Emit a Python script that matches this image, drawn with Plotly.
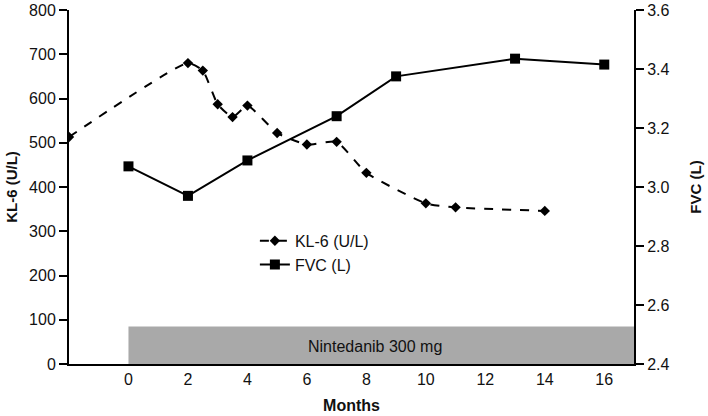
import plotly.graph_objects as go

# Data
kl6_months = [-2, 2, 2.5, 3, 3.5, 4, 5, 6, 7, 8, 10, 11, 14]
kl6_values = [513, 680, 663, 587, 558, 584, 522, 496, 502, 432, 363, 354, 346]
fvc_months = [0, 2, 4, 7, 9, 13, 16]
fvc_values = [3.07, 2.97, 3.09, 3.24, 3.375, 3.435, 3.415]
x_ticks = [0, 2, 4, 6, 8, 10, 12, 14, 16]
treatment_label = "Nintedanib 300 mg"
treatment_start, treatment_end, treatment_level = 0, 17, 85

font = "Liberation Sans, Arial, sans-serif"

fig = go.Figure()
fig.add_trace(go.Scatter(
    x=kl6_months, y=kl6_values, name="KL-6 (U/L)", mode="lines+markers",
    line=dict(color="black", width=2, dash="dash", shape="spline", smoothing=0.5),
    marker=dict(symbol="diamond", size=8, color="black"), yaxis="y"))
fig.add_trace(go.Scatter(
    x=fvc_months, y=fvc_values, name="FVC (L)", mode="lines+markers",
    line=dict(color="black", width=2),
    marker=dict(symbol="square", size=10, color="black"), yaxis="y2"))

fig.add_shape(type="rect", xref="x", yref="y", x0=treatment_start, x1=treatment_end,
              y0=0, y1=treatment_level, fillcolor="#a9a9a9", line=dict(width=0), layer="below")
fig.add_annotation(x=(treatment_start + treatment_end) / 2 - 0.2, y=treatment_level / 2 - 2,
                   xref="x", yref="y", text=treatment_label, showarrow=False,
                   font=dict(family=font, size=16, color="#111"))

axis_common = dict(showgrid=False, zeroline=False, showline=True, linecolor="black", linewidth=2,
                   ticks="outside", ticklen=8, tickwidth=2, tickcolor="black", automargin=False,
                   tickfont=dict(family=font, size=16, color="#111"))

xaxis_cfg = dict(axis_common)
xaxis_cfg["ticks"] = ""

fig.update_layout(
    width=708, height=416, margin=dict(l=69, r=74, t=10, b=52),
    paper_bgcolor="white", plot_bgcolor="white",
    xaxis=dict(range=[-2, 17], tickvals=x_ticks, **xaxis_cfg,
               title=dict(text="<b>Months</b>", font=dict(family=font, size=16, color="#111"), standoff=13)),
    yaxis=dict(range=[0, 800], dtick=100, **axis_common,
               title=dict(text="<b>KL-6 (U/L)</b>", font=dict(family=font, size=15, color="#111"), standoff=8)),
    yaxis2=dict(range=[2.4, 3.6], dtick=0.2, tickformat=".1f", overlaying="y", side="right", **axis_common,
                title=dict(text="<b>FVC (L)</b>", font=dict(family=font, size=15, color="#111"), standoff=22)),
    legend=dict(x=0.329, y=0.396, xanchor="left", yanchor="top", bgcolor="rgba(0,0,0,0)",
                font=dict(family=font, size=16, color="#111"), itemwidth=30),
    showlegend=True,
)

fig.write_html("out.html", config={"displayModeBar": False},
               post_script="document.body.style.margin='0';document.body.style.overflow='hidden';")
